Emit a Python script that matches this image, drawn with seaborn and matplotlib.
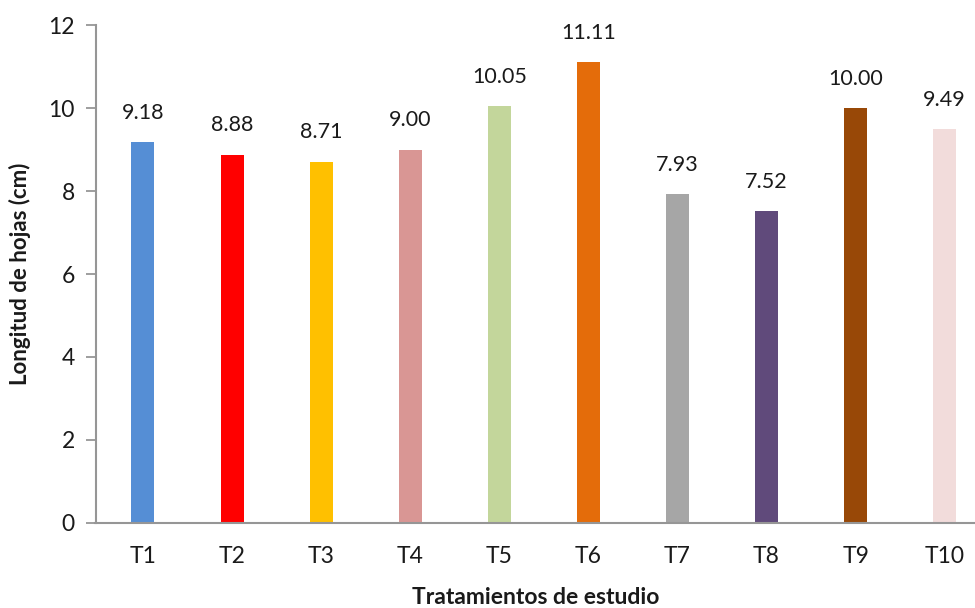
import matplotlib
matplotlib.use("Agg")
import matplotlib.pyplot as plt
import seaborn as sns
import pandas as pd

treatments = ["T1", "T2", "T3", "T4", "T5", "T6", "T7", "T8", "T9", "T10"]
leaf_length = [9.18, 8.88, 8.71, 9.00, 10.05, 11.11, 7.93, 7.52, 10.00, 9.49]
bar_colors = ["#558ED5", "#FF0000", "#FFC000", "#D99694", "#C3D69B",
              "#E46C0A", "#A6A6A6", "#604A7B", "#984807", "#F2DCDB"]
y_ticks = [0, 2, 4, 6, 8, 10, 12]

sns.set_theme(style="white")
plt.rcParams["font.family"] = ["Lato", "DejaVu Sans"]

df = pd.DataFrame({"Tratamiento": treatments, "Longitud": leaf_length})

fig = plt.figure(figsize=(9.75, 6.08), dpi=100)
ax = fig.add_axes([95.5 / 975, 85.3 / 608, (975 - 95.5) / 975, 497.3 / 608])

sns.barplot(data=df, x="Tratamiento", y="Longitud", hue="Tratamiento",
            palette=bar_colors, width=0.258, legend=False, ax=ax,
            saturation=1, edgecolor="none")

for i, v in enumerate(leaf_length):
    ax.annotate(f"{v:.2f}", (i, v), xytext=(0, 14), textcoords="offset points",
                ha="center", va="bottom", fontsize=15.5, color="#1a1a1a")

ax.set_xlim(-0.533, 9.34)
ax.set_ylim(0, 12)
ax.set_yticks(y_ticks)
ax.set_yticklabels([str(t) for t in y_ticks])

for side in ["top", "right"]:
    ax.spines[side].set_visible(False)
for side in ["left", "bottom"]:
    ax.spines[side].set_color("#969696")
    ax.spines[side].set_linewidth(1.5)

ax.tick_params(axis="y", which="major", direction="out", length=7, width=1.3,
               color="#969696", labelsize=16.5, pad=8, left=True)
ax.tick_params(axis="x", length=0, labelsize=16.5, pad=17)
for lbl in ax.get_xticklabels() + ax.get_yticklabels():
    lbl.set_color("#1a1a1a")

ax.set_xlabel("Tratamientos de estudio", fontsize=16.5, fontweight="bold",
              labelpad=14, color="#1a1a1a")
ax.set_ylabel("Longitud de hojas (cm)", fontsize=16, fontweight="bold",
              labelpad=12, color="#1a1a1a")

fig.savefig("out.png", dpi=100)
